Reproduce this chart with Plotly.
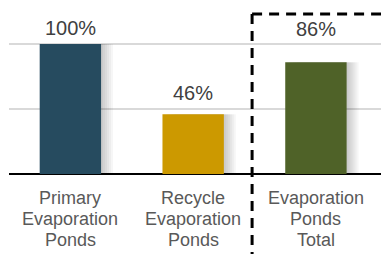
import plotly.graph_objects as go

categories = [["Primary", "Evaporation", "Ponds"],
              ["Recycle", "Evaporation", "Ponds"],
              ["Evaporation", "Ponds", "Total"]]
values = [100, 46, 86]
labels = ["100%", "46%", "86%"]
colors = ["#264B5F", "#CC9900", "#4F6228"]

x_idx = [0, 1, 2]
px_per_unit = 122.8
bar_w = 0.5

fig = go.Figure()
# soft drop shadows
for d in [2, 4, 6, 8, 10, 12]:
    fig.add_trace(go.Bar(
        x=x_idx, y=values, width=bar_w, offset=-bar_w / 2 + d / px_per_unit,
        marker=dict(color="rgba(0,0,0,0.035)", line=dict(width=0)),
        hoverinfo="skip", showlegend=False))
fig.add_trace(go.Bar(
    x=x_idx, y=values, width=bar_w, offset=-bar_w / 2,
    marker=dict(color=colors, line=dict(width=0)),
    showlegend=False))

# value labels
label_shift = [3, 8, 20]
for xi, v, t, s in zip(x_idx, values, labels, label_shift):
    fig.add_annotation(x=xi, y=v, xref="x", yref="y", text=t, showarrow=False,
                       yanchor="bottom", yshift=s,
                       font=dict(size=20, color="#404040"))

# category labels (one line per annotation for tight spacing)
line_shifts = [-23.5, -45, -66]
for xi, lines in zip(x_idx, categories):
    for ln, ys in zip(lines, line_shifts):
        fig.add_annotation(x=xi, y=0, xref="x", yref="paper", text=ln, showarrow=False,
                           yanchor="middle", yshift=ys,
                           font=dict(size=18, color="#595959"))

fig.update_layout(
    width=381, height=254,
    margin=dict(l=9, r=0, t=14, b=80),
    barmode="overlay",
    plot_bgcolor="white", paper_bgcolor="white",
    font=dict(family="Arial, Liberation Sans, sans-serif"),
    xaxis=dict(range=[-0.5, 2.53], showticklabels=False, showgrid=False, zeroline=False,
               showline=False, ticks="", automargin=False),
    yaxis=dict(range=[0, 123], tickvals=[50, 100], showticklabels=False, showgrid=True,
               gridcolor="#D9D9D9", gridwidth=2, zeroline=True, zerolinecolor="black",
               zerolinewidth=2, showline=False, automargin=False),
)

# dashed box around total
fig.add_shape(type="line", xref="x", yref="paper", x0=1.48, x1=1.48, y0=1.0, y1=-0.55,
              line=dict(color="black", width=3, dash="10px,7px"))
fig.add_shape(type="line", xref="x", yref="paper", x0=1.48, x1=2.6, y0=1.0, y1=1.0,
              line=dict(color="black", width=3, dash="10px,7px"))

fig.write_html("out.html", config={"displayModeBar": False},
               post_script="document.body.style.margin='0';document.body.style.overflow='hidden';")
